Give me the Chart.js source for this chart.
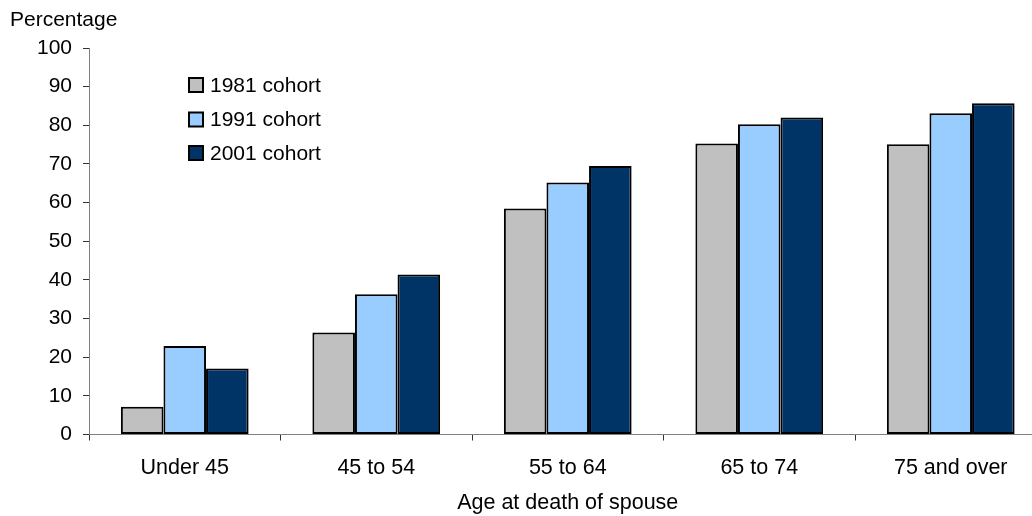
<!DOCTYPE html>
<html>
<head>
<meta charset="utf-8">
<script src="https://cdn.jsdelivr.net/npm/chart.js@4/dist/chart.umd.min.js"></script>
<style>
  html, body { margin: 0; padding: 0; background: #ffffff; overflow: hidden; }
  #wrap { width: 1032px; height: 516px; overflow: hidden; position: relative; }
  canvas { display: block; }
</style>
</head>
<body>
<div id="wrap"><canvas id="c" width="1050" height="516"></canvas></div>
<script>
const categories = ["Under 45", "45 to 54", "55 to 64", "65 to 74", "75 and over"];
const cohort1981 = [7.2, 26.4, 58.5, 75.3, 75.1];
const cohort1991 = [22.9, 36.3, 65.2, 80.3, 83.1];
const cohort2001 = [17.1, 41.4, 69.5, 82.0, 85.7];
const seriesNames = ["1981 cohort", "1991 cohort", "2001 cohort"];
const yTitle = "Percentage";
const xTitle = "Age at death of spouse";

const FONT = "'Liberation Sans', Arial, sans-serif";

const overlay = {
  id: 'overlay',
  afterDraw(chart) {
    const ctx = chart.ctx;
    ctx.save();
    ctx.font = "21px " + FONT;
    ctx.fillStyle = '#000';
    ctx.textBaseline = 'middle';
    ctx.textAlign = 'left';
    ctx.fillText(yTitle, 10, 20.5);
    // legend
    const rows = [85, 119.5, 153];
    chart.data.datasets.forEach((ds, i) => {
      const cy = rows[i];
      ctx.fillStyle = ds.backgroundColor;
      ctx.fillRect(189, cy - 7, 14, 14);
      ctx.lineWidth = 2;
      ctx.strokeStyle = '#000';
      ctx.strokeRect(189, cy - 7, 14, 14);
      ctx.fillStyle = '#000';
      ctx.fillText(ds.label, 210, cy + 1);
    });
    ctx.restore();
  }
};

new Chart(document.getElementById('c'), {
  type: 'bar',
  data: {
    labels: categories,
    datasets: [
      { label: seriesNames[0], data: cohort1981, backgroundColor: '#C0C0C0' },
      { label: seriesNames[1], data: cohort1991, backgroundColor: '#99CCFF' },
      { label: seriesNames[2], data: cohort2001, backgroundColor: '#003366' }
    ].map(d => Object.assign(d, {
      borderColor: '#000000',
      borderWidth: 2,
      borderSkipped: false,
      categoryPercentage: 0.667,
      barPercentage: 1.0
    }))
  },
  options: {
    responsive: false,
    devicePixelRatio: 1,
    animation: false,
    layout: { padding: { top: 48, left: 0, right: 3.5, bottom: 0 } },
    plugins: { legend: { display: false }, tooltip: { enabled: false }, title: { display: false } },
    scales: {
      x: {
        afterFit(scale) { scale.height = 81.5; },
        grid: { drawOnChartArea: false, drawTicks: true, tickLength: 6, tickColor: '#333', offset: true },
        border: { display: true, color: '#808080', width: 1 },
        ticks: { color: '#000', font: { family: FONT, size: 21.5 }, padding: 14.5, maxRotation: 0 },
        title: { display: true, text: xTitle, color: '#000', font: { family: FONT, size: 21.5 }, padding: { top: 0, bottom: 0 } }
      },
      y: {
        min: 0, max: 100,
        afterFit(scale) { scale.width = 89; },
        grid: { drawOnChartArea: false, drawTicks: true, tickLength: 6, tickColor: '#333' },
        border: { display: true, color: '#808080', width: 1 },
        ticks: { stepSize: 10, color: '#000', font: { family: FONT, size: 21 }, padding: 11 }
      }
    }
  },
  plugins: [overlay]
});
</script>
</body>
</html>
